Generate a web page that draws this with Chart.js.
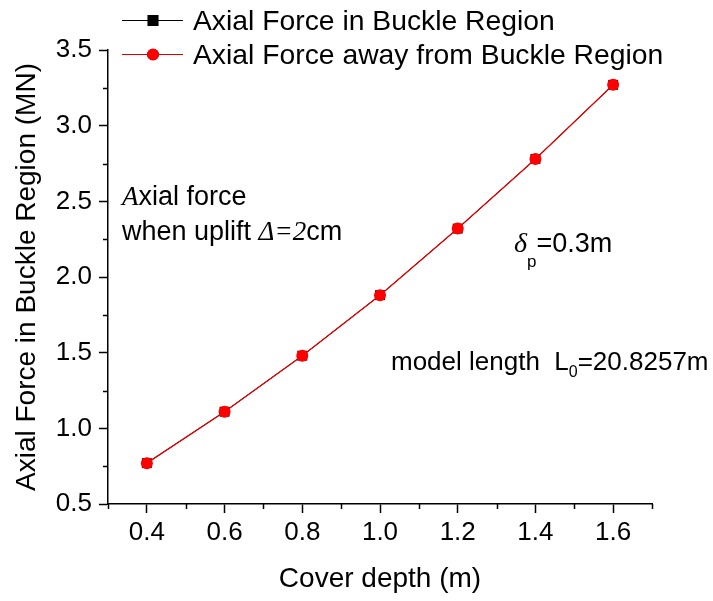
<!DOCTYPE html>
<html>
<head>
<meta charset="utf-8">
<title>Axial force vs cover depth</title>
<script src="https://cdn.jsdelivr.net/npm/chart.js@4.4.1/dist/chart.umd.min.js"></script>
<style>
    body { margin: 0; background: #fff; }
    #wrap { width: 713px; height: 601px; }
</style>
</head>
<body>
<div id="wrap"><canvas id="forceChart" width="713" height="601"></canvas></div>
<script>
// data
const coverDepth = [0.4, 0.6, 0.8, 1.0, 1.2, 1.4, 1.6];
const forceInBuckle = [0.77, 1.11, 1.48, 1.88, 2.32, 2.78, 3.27];
const forceAwayBuckle = [0.77, 1.11, 1.48, 1.88, 2.32, 2.78, 3.27];

const xTickValues = [0.4, 0.6, 0.8, 1.0, 1.2, 1.4, 1.6];
const xMinorTicks = [0.3, 0.5, 0.7, 0.9, 1.1, 1.3, 1.5, 1.7];
const yTickValues = [0.5, 1.0, 1.5, 2.0, 2.5, 3.0, 3.5];
const yMinorTicks = [0.75, 1.25, 1.75, 2.25, 2.75, 3.25];

const SANS = '"Liberation Sans", Arial, sans-serif';
const SERIF = '"Liberation Serif", "Times New Roman", serif';

Chart.defaults.font.family = SANS;
Chart.defaults.color = '#000';

const toPoints = (xs, ys) => xs.map((x, i) => ({ x: x, y: ys[i] }));

// small ticks between the labelled ones
const minorTicks = {
    id: 'minorTicks',
    afterDraw(chart) {
        const ctx = chart.ctx;
        const xs = chart.scales.x, ys = chart.scales.y;
        const area = chart.chartArea;
        ctx.save();
        ctx.strokeStyle = '#000';
        ctx.lineWidth = 1.5;
        ctx.beginPath();
        xMinorTicks.forEach(v => {
            const px = Math.round(xs.getPixelForValue(v)) + 0.5;
            ctx.moveTo(px, area.bottom);
            ctx.lineTo(px, area.bottom + 5);
        });
        yMinorTicks.forEach(v => {
            const py = Math.round(ys.getPixelForValue(v)) + 0.5;
            ctx.moveTo(area.left - 5, py);
            ctx.lineTo(area.left, py);
        });
        ctx.stroke();
        ctx.restore();
    }
};

// legend drawn by hand so it can sit over the top of the plot
const sideLegend = {
    id: 'sideLegend',
    afterDraw(chart) {
        const ctx = chart.ctx;
        const rows = [20, 54];
        ctx.save();
        chart.data.datasets.forEach((ds, i) => {
            const y = rows[i];
            ctx.strokeStyle = ds.borderColor;
            ctx.lineWidth = 1.2;
            ctx.beginPath();
            ctx.moveTo(122, y + 0.5);
            ctx.lineTo(183, y + 0.5);
            ctx.stroke();
            Chart.helpers.drawPoint(ctx, {
                pointStyle: ds.pointStyle,
                radius: ds.pointStyle === 'rect' ? 7 : 5.5,
                borderWidth: 1,
                rotation: 0
            }, 153, y + 0.5);
            ctx.fillStyle = ds.pointBackgroundColor;
            ctx.fill();
            ctx.fillStyle = '#000';
            ctx.font = '28.3px ' + SANS;
            ctx.textBaseline = 'alphabetic';
            ctx.fillText(ds.label, 193, y + 10);
        });
        ctx.restore();
    }
};

// pieces of mixed-font text: [text, font, dy]
function drawRun(ctx, x, y, parts) {
    parts.forEach(p => {
        ctx.font = p[1];
        ctx.fillText(p[0], x, y + (p[2] || 0));
        x += ctx.measureText(p[0]).width;
    });
}

const notes = {
    id: 'notes',
    afterDraw(chart) {
        const ctx = chart.ctx;
        ctx.save();
        ctx.fillStyle = '#000';
        ctx.textBaseline = 'alphabetic';
        drawRun(ctx, 122, 205, [
            ['A', 'italic 27px ' + SERIF],
            ['xial force', '27px ' + SANS]
        ]);
        drawRun(ctx, 122, 240, [
            ['when uplift ', '27px ' + SANS],
            ['\u0394=2', 'italic 27px ' + SERIF],
            ['cm', '27px ' + SANS]
        ]);
        drawRun(ctx, 514, 252, [
            ['\u03B4', 'italic 28px ' + SERIF],
            ['p', '17px ' + SANS, 15],
            ['=0.3m', '27px ' + SANS]
        ]);
        drawRun(ctx, 391, 370, [
            ['model length  L', '26px ' + SANS],
            ['0', '16px ' + SANS, 7],
            ['=20.8257m', '26px ' + SANS]
        ]);
        ctx.restore();
    }
};

const ctx = document.getElementById('forceChart').getContext('2d');
new Chart(ctx, {
    type: 'scatter',
    data: {
        datasets: [{
            label: 'Axial Force in Buckle Region',
            data: toPoints(coverDepth, forceInBuckle),
            showLine: true,
            borderColor: '#000',
            borderWidth: 1,
            pointStyle: 'rect',
            pointRadius: 7,
            pointBackgroundColor: '#000',
            pointBorderColor: '#000',
            pointBorderWidth: 0,
            order: 2
        }, {
            label: 'Axial Force away from Buckle Region',
            data: toPoints(coverDepth, forceAwayBuckle),
            showLine: true,
            borderColor: '#e00000',
            borderWidth: 1.3,
            pointStyle: 'circle',
            pointRadius: 6,
            pointBackgroundColor: '#ff0000',
            pointBorderColor: '#ff0000',
            pointBorderWidth: 0,
            order: 1
        }]
    },
    options: {
        responsive: false,
        animation: false,
        devicePixelRatio: 1,
        layout: { padding: { top: 50, right: 61, left: 0, bottom: 0 } },
        plugins: {
            legend: { display: false },
            tooltip: { enabled: false }
        },
        scales: {
            x: {
                type: 'linear',
                min: 0.3,
                max: 1.7,
                afterBuildTicks: s => { s.ticks = xTickValues.map(v => ({ value: v })); },
                afterFit: s => { s.height = 97; },
                border: { display: true, color: '#000', width: 1.5 },
                grid: { drawOnChartArea: false, drawTicks: true, tickLength: 9, tickColor: '#000', tickWidth: 1.5 },
                ticks: {
                    autoSkip: false,
                    maxRotation: 0,
                    padding: 4,
                    color: '#000',
                    font: { size: 26 },
                    callback: v => v.toFixed(1)
                },
                title: {
                    display: true,
                    text: 'Cover depth (m)',
                    color: '#000',
                    font: { size: 28 },
                    padding: { top: 0, bottom: 5 }
                }
            },
            y: {
                type: 'linear',
                min: 0.5,
                max: 3.5,
                afterBuildTicks: s => { s.ticks = yTickValues.map(v => ({ value: v })); },
                afterFit: s => { s.width = 108; },
                border: { display: true, color: '#000', width: 1.5 },
                grid: { drawOnChartArea: false, drawTicks: true, tickLength: 9, tickColor: '#000', tickWidth: 1.5 },
                ticks: {
                    autoSkip: false,
                    padding: 7,
                    color: '#000',
                    font: { size: 26 },
                    callback: v => v.toFixed(1)
                },
                title: {
                    display: true,
                    text: 'Axial Force in Buckle Region (MN)',
                    color: '#000',
                    font: { size: 28 },
                    padding: { top: 10, bottom: 0 }
                }
            }
        }
    },
    plugins: [minorTicks, sideLegend, notes]
});
</script>
</body>
</html>
